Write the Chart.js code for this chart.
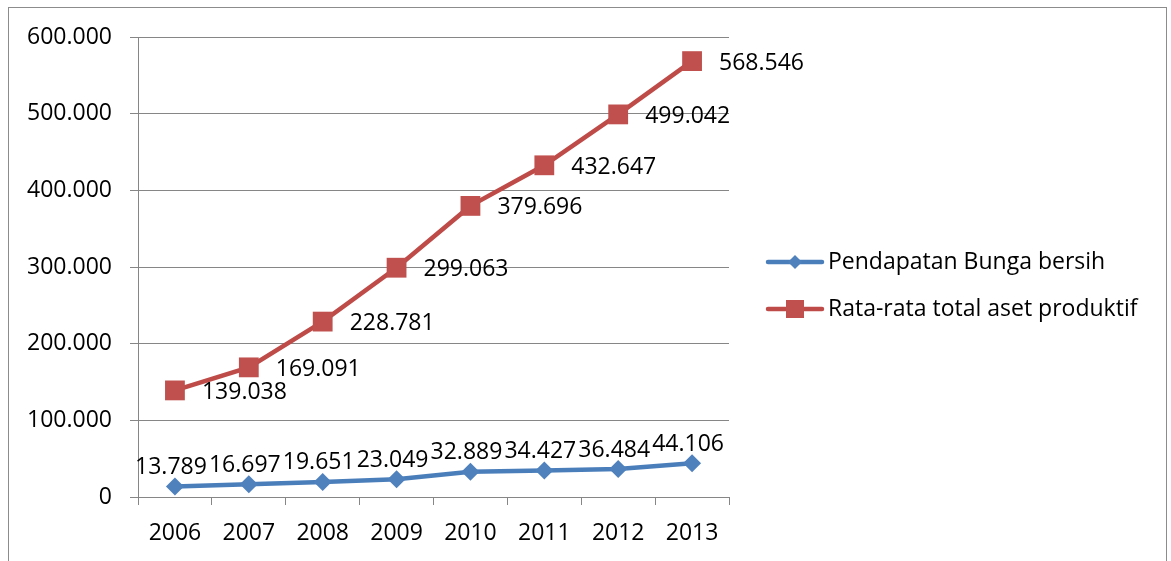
<!DOCTYPE html>
<html>
<head>
<meta charset="utf-8">
<script src="https://cdn.jsdelivr.net/npm/chart.js@4.4.1/dist/chart.umd.min.js"></script>
<style>
  html, body { margin: 0; padding: 0; background: #fff; overflow: hidden; }
  #wrap { position: relative; width: 1171px; height: 561px; }
  #frame { position: absolute; left: 8px; top: 7px; width: 1159px; height: 620px;
           border: 1px solid #8c8c8c; box-sizing: border-box; }
  canvas { position: absolute; left: 0; top: 0; }
</style>
</head>
<body>
<div id="wrap">
  <div id="frame"></div>
  <canvas id="c" width="1171" height="561"></canvas>
</div>
<script>
// Tahun pengamatan
const years = ['2006', '2007', '2008', '2009', '2010', '2011', '2012', '2013'];
// Pendapatan bunga bersih
const pendapatanBunga = [13789, 16697, 19651, 23049, 32889, 34427, 36484, 44106];
// Rata-rata total aset produktif
const rataAset = [139038, 169091, 228781, 299063, 379696, 432647, 499042, 568546];
const seriesNames = ['Pendapatan Bunga bersih', 'Rata-rata total aset produktif'];

const FONT = '"Open Sans", "Liberation Sans", sans-serif';
const BLUE = '#4A7EBB', BLUE_M = '#4F81BD';
const RED = '#BE4B48', RED_M = '#C0504D';

function fmt(n) {
  return String(n).replace(/\B(?=(\d{3})+(?!\d))/g, '.');
}

// Value labels next to each point
const valueLabels = {
  id: 'valueLabels',
  afterDatasetsDraw(chart) {
    const ctx = chart.ctx;
    ctx.save();
    ctx.font = '23px ' + FONT;
    ctx.fillStyle = '#000';
    chart.data.datasets.forEach((ds, i) => {
      const meta = chart.getDatasetMeta(i);
      meta.data.forEach((pt, j) => {
        const txt = fmt(ds.data[j]);
        if (i === 0) {
          ctx.textAlign = 'center';
          ctx.textBaseline = 'middle';
          ctx.fillText(txt, pt.x - 4, pt.y - 19);
        } else {
          ctx.textAlign = 'left';
          ctx.textBaseline = 'middle';
          ctx.fillText(txt, pt.x + 27, pt.y + 2);
        }
      });
    });
    ctx.restore();
  }
};

// Legend on the right: line segment with marker, then series name
const sideLegend = {
  id: 'sideLegend',
  afterDraw(chart) {
    const ctx = chart.ctx;
    const x0 = chart.chartArea.right + 39;
    const rows = [262, 309];
    ctx.save();
    chart.data.datasets.forEach((ds, i) => {
      const y = rows[i];
      ctx.strokeStyle = ds.borderColor;
      ctx.lineWidth = 4.5;
      ctx.lineCap = 'round';
      ctx.beginPath();
      ctx.moveTo(x0, y);
      ctx.lineTo(x0 + 54, y);
      ctx.stroke();
      ctx.fillStyle = ds.pointBackgroundColor;
      ctx.beginPath();
      const cx = x0 + 27;
      if (i === 0) {
        ctx.moveTo(cx, y - 7); ctx.lineTo(cx + 7, y); ctx.lineTo(cx, y + 7); ctx.lineTo(cx - 7, y);
        ctx.closePath();
      } else {
        ctx.rect(cx - 9, y - 9, 18, 18);
      }
      ctx.fill();
      ctx.fillStyle = '#000';
      ctx.font = '23px ' + FONT;
      ctx.textAlign = 'left';
      ctx.textBaseline = 'middle';
      ctx.fillText(seriesNames[i], x0 + 60, y);
    });
    ctx.restore();
  }
};

new Chart(document.getElementById('c'), {
  type: 'line',
  data: {
    labels: years,
    datasets: [
      {
        label: seriesNames[0],
        data: pendapatanBunga,
        borderColor: BLUE,
        borderWidth: 4.5,
        pointStyle: 'rectRot',
        pointRadius: 9,
        pointBackgroundColor: BLUE_M,
        pointBorderColor: BLUE_M,
        pointBorderWidth: 0,
        tension: 0
      },
      {
        label: seriesNames[1],
        data: rataAset,
        borderColor: RED,
        borderWidth: 4.5,
        pointStyle: 'rect',
        pointRadius: 14,
        pointBackgroundColor: RED_M,
        pointBorderColor: RED_M,
        pointBorderWidth: 0,
        tension: 0
      }
    ]
  },
  options: {
    responsive: false,
    animation: false,
    events: [],
    layout: { padding: { left: 0, top: 37, right: 442, bottom: 0 } },
    plugins: { legend: { display: false }, tooltip: { enabled: false } },
    scales: {
      x: {
        offset: true,
        grid: { offset: true, drawOnChartArea: false, drawTicks: true, tickLength: 8, color: '#868686', lineWidth: 1 },
        border: { display: false },
        ticks: { color: '#000', font: { family: FONT, size: 23 }, padding: 15, maxRotation: 0 },
        afterFit(s) { s.height = 64; }
      },
      y: {
        min: 0,
        max: 600000,
        grid: { color: '#868686', lineWidth: 1, tickLength: 8 },
        border: { color: '#868686', width: 1 },
        ticks: {
          stepSize: 100000,
          color: '#000',
          font: { family: FONT, size: 23 },
          padding: 18,
          callback: v => fmt(v)
        },
        afterFit(s) { s.width = 138; }
      }
    }
  },
  plugins: [valueLabels, sideLegend]
});
</script>
</body>
</html>
